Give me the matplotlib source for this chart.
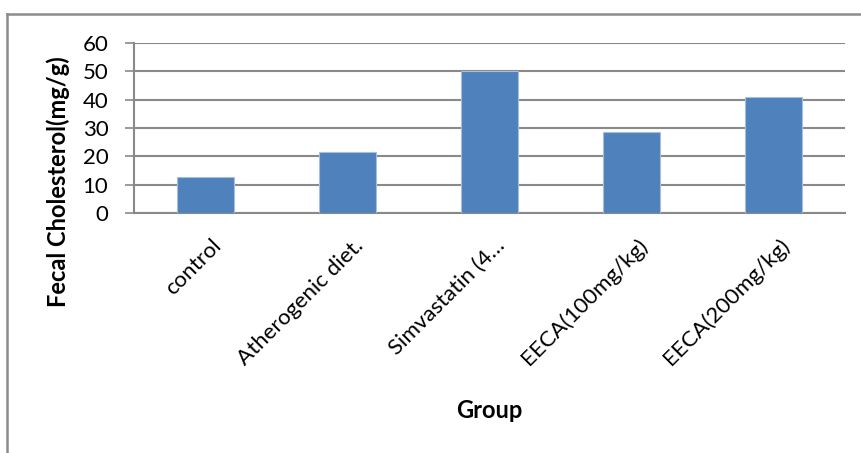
import matplotlib

matplotlib.use("Agg")

import matplotlib.pyplot as plt
import matplotlib.transforms as mtransforms
from matplotlib.lines import Line2D

groups = ["control", "Atherogenic diet.", "Simvastatin (4…", "EECA(100mg/kg)", "EECA(200mg/kg)"]
fecal_cholesterol = [12.8, 21.4, 50.0, 28.6, 40.9]
y_ticks = [0, 10, 20, 30, 40, 50, 60]

plt.rcParams["font.family"] = ["Lato", "DejaVu Sans"]

W, H = 862, 453
fig = plt.figure(figsize=(W / 100, H / 100), dpi=100)
ax = fig.add_axes([134 / W, 1 - 213 / H, (845 - 134) / W, 170 / H])

grid_color = "#898989"
ax.bar(range(len(groups)), fecal_cholesterol, width=0.4,
       color="#4F81BD", edgecolor="#A7BFDE", linewidth=0.8, zorder=3)

ax.set_xlim(-0.5, len(groups) - 0.5)
ax.set_ylim(0, 60)
ax.set_yticks(y_ticks)
ax.yaxis.grid(True, color=grid_color, linewidth=1.5, zorder=0)
ax.tick_params(axis="y", length=6.5, width=1.2, color=grid_color, labelsize=16, pad=12)
ax.tick_params(axis="x", length=0, pad=16)

ax.set_xticks(range(len(groups)))
ax.set_xticklabels(groups, rotation=45, ha="right", va="top",
                   rotation_mode="anchor", fontsize=16)
# nudge the slanted category labels a little to the right
shift = mtransforms.ScaledTranslation(4 / 72, 0, fig.dpi_scale_trans)
for lbl in ax.get_xticklabels():
    lbl.set_transform(lbl.get_transform() + shift)

for side in ["top", "right"]:
    ax.spines[side].set_visible(False)
for side in ["left", "bottom"]:
    ax.spines[side].set_color(grid_color)
    ax.spines[side].set_linewidth(1.5)

fig.text(58 / W, 1 - 182 / H, "Fecal Cholesterol(mg/g)", fontsize=17, fontweight="bold",
         rotation=90, ha="center", va="center")
fig.text(489 / W, 1 - 411 / H, "Group", fontsize=17, fontweight="bold",
         ha="center", va="center")

# outer chart frame: only the top and left edges show
fig.add_artist(Line2D([7.5 / W, 1.0], [1 - 13.5 / H, 1 - 13.5 / H], color="#8C8C8C",
                      linewidth=1.8, transform=fig.transFigure))
fig.add_artist(Line2D([7.5 / W, 7.5 / W], [0.0, 1 - 13.5 / H], color="#8C8C8C",
                      linewidth=1.8, transform=fig.transFigure))

fig.savefig("out.png", dpi=100)
